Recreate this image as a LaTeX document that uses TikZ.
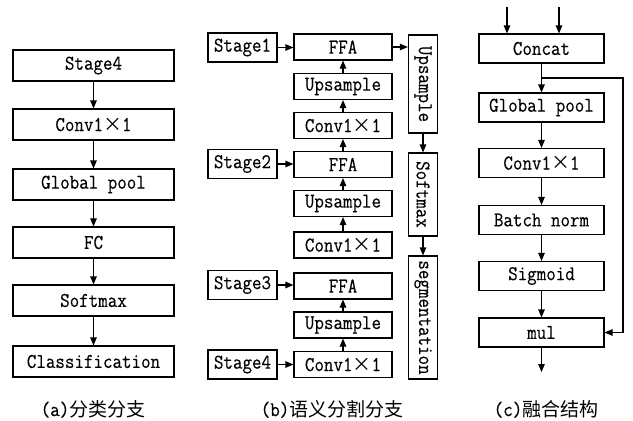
\documentclass[tikz,border=0pt]{standalone}
\usepackage{fontspec}
\setmonofont[FakeStretch=0.88,FakeBold=0.3]{Latin Modern Mono}
\newfontfamily\cjk{Noto Sans CJK SC}
\usetikzlibrary{arrows.meta}
\newcommand{\mult}{{\cjk\fontsize{19}{20}\selectfont ×}}

\begin{document}
\begin{tikzpicture}[x=1pt,y=-1pt,line width=1.1pt,
    every node/.style={font=\ttfamily\fontsize{21}{22}\selectfont,inner sep=0pt},
    box/.style={draw,line width=1.1pt},
    abox/.style={box,minimum width=161pt,minimum height=31pt},
    sbox/.style={box,minimum width=69pt,minimum height=29pt},
    bbox/.style={box,minimum width=98pt,minimum height=26pt},
    vbox/.style={box,rotate=-90,minimum height=29pt},
    cbox/.style={box,minimum width=125pt,minimum height=29pt},
    >={Triangle[length=8pt,width=6.5pt]}]
  \useasboundingbox (0,0) rectangle (633,421);

  % (a) classification branch
  \node[abox] (a1) at (93.5, 65.5) {Stage4};
  \node[abox] (a2) at (93.5,124.5) {Conv1\mult 1};
  \node[abox] (a3) at (93.5,184.5) {Global pool};
  \node[abox] (a4) at (93.5,242.5) {FC};
  \node[abox] (a5) at (93.5,300.5) {Softmax};
  \node[abox] (a6) at (93.5,361.5) {Classification};
  \foreach \i/\j in {a1/a2,a2/a3,a3/a4,a4/a5,a5/a6}
    \draw[->] (\i) -- (\j);

  % (b) segmentation branch
  \node[sbox] (s1) at (242.5, 47.5) {Stage1};
  \node[sbox] (s2) at (242.5,164)   {Stage2};
  \node[sbox] (s3) at (242.5,285)   {Stage3};
  \node[sbox] (s4) at (242.5,364.5) {Stage4};
  \node[bbox] (ffa1) at (343, 47)   {FFA};
  \node[bbox] (up1)  at (343, 86.5) {Upsample};
  \node[bbox] (cv1)  at (343,125.5) {Conv1\mult 1};
  \node[bbox] (ffa2) at (343,164.5) {FFA};
  \node[bbox] (up2)  at (343,203.5) {Upsample};
  \node[bbox] (cv2)  at (343,245)   {Conv1\mult 1};
  \node[bbox] (ffa3) at (343,286)   {FFA};
  \node[bbox] (up3)  at (343,325)   {Upsample};
  \node[bbox] (cv3)  at (343,364.5) {Conv1\mult 1};
  \foreach \i/\j in {s1/ffa1,s2/ffa2,s3/ffa3,s4/cv3}
    \draw[->] (\i.east) -- (\i.east -| \j.west);
  \foreach \i/\j in {cv3/up3,up3/ffa3,cv2/up2,up2/ffa2,ffa2/cv1,cv1/up1,up1/ffa1}
    \draw[->] (\i) -- (\j);
  \node[vbox,minimum width=98pt]  (upv)  at (423, 84)    {Upsample};
  \node[vbox,minimum width=83pt]  (smv)  at (423,194.5)  {Softmax};
  \node[vbox,minimum width=123pt] (segv) at (423,317.5)  {segmentation};
  \draw[->] (ffa1.east) -- (ffa1.east -| upv.south);
  \draw[->] (upv) -- (smv);
  \draw[->] (smv) -- (segv);

  % (c) fusion block
  \node[cbox] (cat) at (541.5, 48.5) {Concat};
  \node[cbox] (gp)  at (541.5,107.5) {Global pool};
  \node[cbox] (cv)  at (541.5,163)   {Conv1\mult 1};
  \node[cbox] (bn)  at (541.5,220)   {Batch norm};
  \node[cbox] (sg)  at (541.5,276)   {Sigmoid};
  \node[cbox] (mul) at (541.5,332.5) {mul};
  \coordinate (in1)   at (507,7);
  \coordinate (in2)   at (559,7);
  \coordinate (split) at (541.5,78);
  \coordinate (loop)  at (623,78);
  \coordinate (out)   at (541.5,372);
  \draw[->] (in1) -- (in1 |- cat.north);
  \draw[->] (in2) -- (in2 |- cat.north);
  \foreach \i/\j in {cat/gp,gp/cv,cv/bn,bn/sg,sg/mul}
    \draw[->] (\i) -- (\j);
  \draw[->] (split) -- (loop) |- (mul.east);
  \draw[->] (mul) -- (out);

  % captions
  \node (capa) at (93,409)  {(a){\cjk\fontsize{19}{20}\selectfont 分类分支}};
  \node (capb) at (332,409) {(b){\cjk\fontsize{19}{20}\selectfont 语义分割分支}};
  \node (capc) at (546,409) {(c){\cjk\fontsize{19}{20}\selectfont 融合结构}};
\end{tikzpicture}
\end{document}
